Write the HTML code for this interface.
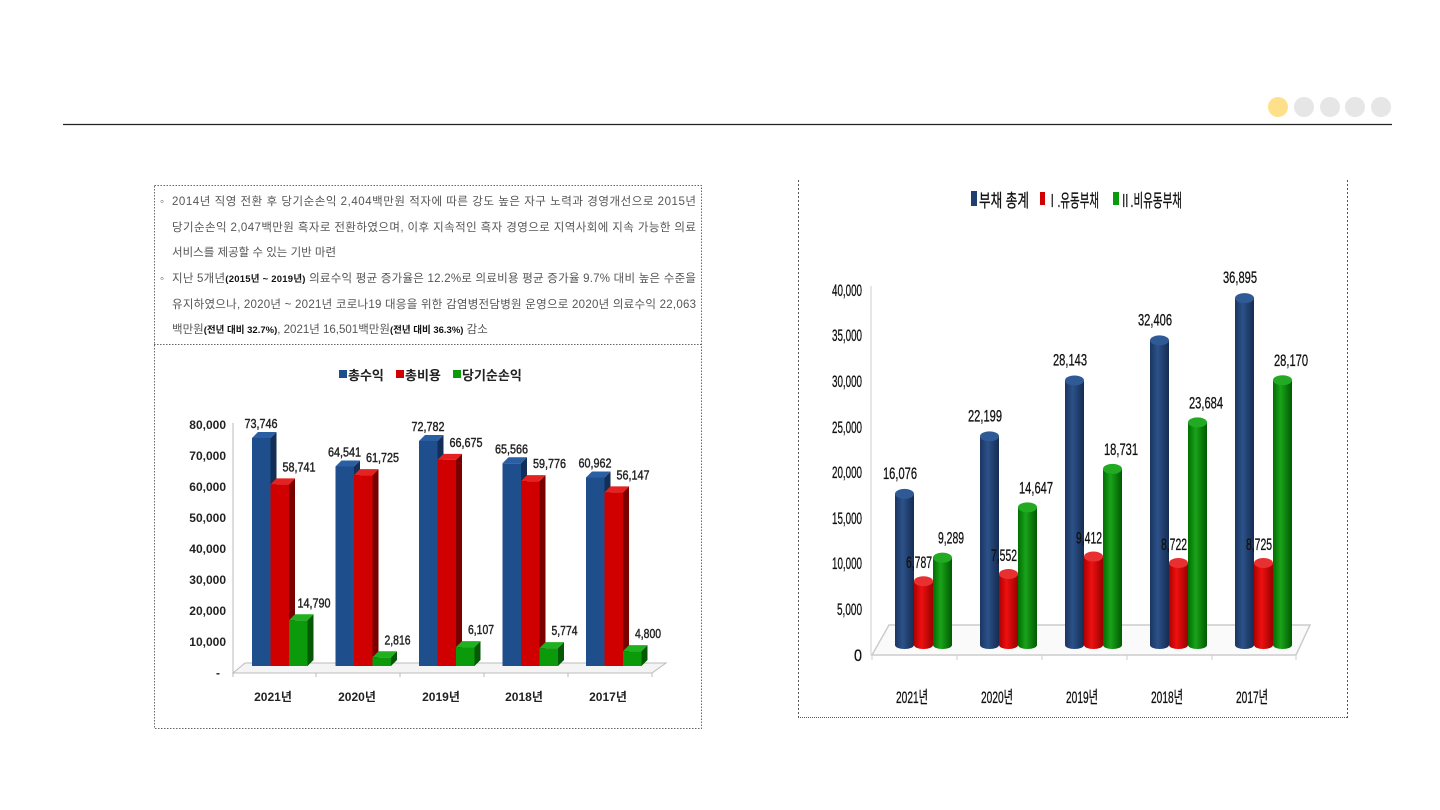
<!DOCTYPE html>
<html><head><meta charset="utf-8"><style>
html,body{margin:0;padding:0;background:#fff;}
svg{display:block;}
text{font-family:"Liberation Sans","Noto Sans CJK KR",sans-serif;}
</style></head><body>
<svg width="1440" height="810" viewBox="0 0 1440 810" xmlns="http://www.w3.org/2000/svg">
<defs>
<linearGradient id="cb" x1="0" x2="1"><stop offset="0" stop-color="#1a3560"/><stop offset=".4" stop-color="#2c5189"/><stop offset="1" stop-color="#152c52"/></linearGradient>
<linearGradient id="cr" x1="0" x2="1"><stop offset="0" stop-color="#b00000"/><stop offset=".4" stop-color="#ee1010"/><stop offset="1" stop-color="#9a0000"/></linearGradient>
<linearGradient id="cg" x1="0" x2="1"><stop offset="0" stop-color="#006e00"/><stop offset=".4" stop-color="#1aa31a"/><stop offset="1" stop-color="#005a00"/></linearGradient>
</defs>
<line x1="63" y1="124.5" x2="1392" y2="124.5" stroke="#222" stroke-width="1.3"/>
<circle cx="1278" cy="107" r="10" fill="#FFE08A"/>
<circle cx="1304" cy="107" r="10" fill="#E6E6E6"/>
<circle cx="1330" cy="107" r="10" fill="#E6E6E6"/>
<circle cx="1355" cy="107" r="10" fill="#E6E6E6"/>
<circle cx="1381" cy="107" r="10" fill="#E6E6E6"/>

<rect x="154.5" y="185.5" width="547" height="543" fill="none" stroke="#666" stroke-dasharray="1.5,1.5"/>
<line x1="154" y1="344.5" x2="701" y2="344.5" stroke="#666" stroke-dasharray="1.5,1.5"/>
<g font-size="11.5" fill="#555">
<text x="160" y="205">◦</text>
<text x="172" y="205" textLength="524" lengthAdjust="spacing">2014년 직영 전환 후 당기순손익 2,404백만원 적자에 따른 강도 높은 자구 노력과 경영개선으로 2015년</text>
<text x="172" y="231" textLength="524" lengthAdjust="spacing">당기순손익 2,047백만원 흑자로 전환하였으며, 이후 지속적인 흑자 경영으로 지역사회에 지속 가능한 의료</text>
<text x="172" y="256">서비스를 제공할 수 있는 기반 마련</text>
<text x="160" y="282">◦</text>
<text x="172" y="282" textLength="524" lengthAdjust="spacing">지난 5개년<tspan font-weight="bold" font-size="9.5" fill="#111">(2015년 ~ 2019년)</tspan> 의료수익 평균 증가율은 12.2%로 의료비용 평균 증가율 9.7% 대비 높은 수준을</text>
<text x="172" y="308" textLength="524" lengthAdjust="spacing">유지하였으나, 2020년 ~ 2021년 코로나19 대응을 위한 감염병전담병원 운영으로 2020년 의료수익 22,063</text>
<text x="172" y="333">백만원<tspan font-weight="bold" font-size="9.5" fill="#111">(전년 대비 32.7%)</tspan>, 2021년 16,501백만원<tspan font-weight="bold" font-size="9.5" fill="#111">(전년 대비 36.3%)</tspan> 감소</text>
</g>

<g font-size="13" font-weight="bold" fill="#222">
<rect x="339" y="370" width="8" height="8" fill="#1f4e8c"/><text x="348" y="380">총수익</text>
<rect x="396" y="370" width="8" height="8" fill="#d00000"/><text x="405" y="380">총비용</text>
<rect x="453" y="370" width="8" height="8" fill="#0a9a0a"/><text x="462" y="380">당기순손익</text>
</g>
<g font-size="12" font-weight="bold" fill="#222" text-anchor="end">
<text x="226" y="429">80,000</text><text x="226" y="460">70,000</text><text x="226" y="491">60,000</text>
<text x="226" y="522">50,000</text><text x="226" y="553">40,000</text><text x="226" y="584">30,000</text>
<text x="226" y="615">20,000</text><text x="226" y="646">10,000</text><text x="220" y="677">-</text>
</g>
<line x1="233" y1="423" x2="233" y2="673" stroke="#bbb"/>
<polygon points="233,673 652,673 666,663 245,663" fill="#f4f4f4" stroke="#bbb"/>
<g stroke="#bbb"><line x1="233" y1="673" x2="233" y2="677"/><line x1="316" y1="673" x2="316" y2="677"/><line x1="400" y1="673" x2="400" y2="677"/><line x1="484" y1="673" x2="484" y2="677"/><line x1="568" y1="673" x2="568" y2="677"/><line x1="652" y1="673" x2="652" y2="677"/></g>
<g font-size="12" font-weight="bold" fill="#222" text-anchor="middle">
<text x="273" y="701">2021년</text><text x="357" y="701">2020년</text><text x="441" y="701">2019년</text><text x="524" y="701">2018년</text><text x="608" y="701">2017년</text>
</g>
<g id="lb"></g>

<g stroke="#555" stroke-dasharray="2,2" fill="none">
<line x1="798.5" y1="180" x2="798.5" y2="718"/>
<line x1="1347.5" y1="180" x2="1347.5" y2="718"/>
<line x1="798" y1="717.5" x2="1348" y2="717.5" stroke-dasharray="1,1"/>
</g>
<g font-size="18" fill="#111" stroke="#111" stroke-width="0.3">
<rect x="971" y="191" width="6" height="15" fill="#1f3f6e" stroke="none"/><text x="979" y="207" textLength="50" lengthAdjust="spacingAndGlyphs">부채 총계</text>
<rect x="1040" y="192" width="5" height="13" fill="#d00000" stroke="none"/><text x="1047" y="207" textLength="52" lengthAdjust="spacingAndGlyphs">Ⅰ.유동부채</text>
<rect x="1113" y="192" width="6" height="13" fill="#0a9a0a" stroke="none"/><text x="1120" y="207" textLength="62" lengthAdjust="spacingAndGlyphs">Ⅱ.비유동부채</text>
</g>
<g font-size="17" fill="#111" stroke="#111" stroke-width="0.3" text-anchor="end">
<text x="862" y="296" textLength="30" lengthAdjust="spacingAndGlyphs">40,000</text>
<text x="862" y="341" textLength="30" lengthAdjust="spacingAndGlyphs">35,000</text>
<text x="862" y="387" textLength="30" lengthAdjust="spacingAndGlyphs">30,000</text>
<text x="862" y="433" textLength="30" lengthAdjust="spacingAndGlyphs">25,000</text>
<text x="862" y="478" textLength="30" lengthAdjust="spacingAndGlyphs">20,000</text>
<text x="862" y="524" textLength="30" lengthAdjust="spacingAndGlyphs">15,000</text>
<text x="862" y="569" textLength="30" lengthAdjust="spacingAndGlyphs">10,000</text>
<text x="862" y="615" textLength="25" lengthAdjust="spacingAndGlyphs">5,000</text>
<text x="862" y="661" textLength="8" lengthAdjust="spacingAndGlyphs">0</text>
</g>
<line x1="871" y1="286" x2="871" y2="655" stroke="#ccc"/>
<polygon points="872,655 1296,655 1310,625 889,625" fill="#fafafa" stroke="#ccc" stroke-width="1.5"/>
<g stroke="#ccc"><line x1="872" y1="655" x2="872" y2="660"/><line x1="957" y1="655" x2="957" y2="660"/><line x1="1042" y1="655" x2="1042" y2="660"/><line x1="1127" y1="655" x2="1127" y2="660"/><line x1="1212" y1="655" x2="1212" y2="660"/><line x1="1296" y1="655" x2="1296" y2="660"/></g>
<g id="rb"></g>
<g font-size="17" fill="#111" stroke="#111" stroke-width="0.3" text-anchor="middle">
<text x="912" y="703" textLength="32" lengthAdjust="spacingAndGlyphs">2021년</text>
<text x="997" y="703" textLength="32" lengthAdjust="spacingAndGlyphs">2020년</text>
<text x="1082" y="703" textLength="32" lengthAdjust="spacingAndGlyphs">2019년</text>
<text x="1167" y="703" textLength="32" lengthAdjust="spacingAndGlyphs">2018년</text>
<text x="1252" y="703" textLength="32" lengthAdjust="spacingAndGlyphs">2017년</text>
</g>
<script>
(function(){
var ns="http://www.w3.org/2000/svg",g=document.getElementById("lb");
function el(t,a,p){var e=document.createElementNS(ns,t);for(var k in a)e.setAttribute(k,a[k]);(p||g).appendChild(e);return e;}
var tot=[73746,64541,72782,65566,60962],cost=[58741,61725,66675,59776,56147],net=[14790,2816,6107,5774,4800];
var cols=[["#1f4e8c","#2b5fa3","#132f57"],["#d00000","#e52222","#7a0000"],["#0a9a0a","#20b020","#045a04"]];
var base=666,sc=0.003092,w=18.5,d=6;
function bar(x,v,c){var t=base-v*sc;
 el("polygon",{points:(x+w)+","+t+" "+(x+w+d)+","+(t-d)+" "+(x+w+d)+","+(base-d)+" "+(x+w)+","+base,fill:c[2]});
 el("polygon",{points:x+","+t+" "+(x+d)+","+(t-d)+" "+(x+w+d)+","+(t-d)+" "+(x+w)+","+t,fill:c[1]});
 el("rect",{x:x,y:t,width:w,height:base-t,fill:c[0]});return t;}
function f(n){return n.toLocaleString("en-US");}
function lab(x,y,s){var e=el("text",{x:x,y:y,"font-size":"12.5",fill:"#222",stroke:"#222","stroke-width":"0.4","text-anchor":"middle",textLength:(s.length>5?33:26),lengthAdjust:"spacingAndGlyphs"});e.textContent=s;}
for(var i=0;i<5;i++){var gx=252+i*83.5;
 var t1=bar(gx,tot[i],cols[0]),t2=bar(gx+w,cost[i],cols[1]),t3=bar(gx+2*w,net[i],cols[2]);
 lab(gx+9,t1-10,f(tot[i]));lab(gx+47,t2-13,f(cost[i]));lab(gx+62,t3-13,f(net[i]));}
var rt=[16076,22199,28143,32406,36895],rc=[6787,7552,9412,8722,8725],rn=[9289,14647,18731,23684,28170];
var g2=document.getElementById("rb");
var rb=645,rs=0.0094,rw=19;
function cyl(x,v,gr,top){var t=rb-v*rs;
 el("rect",{x:x,y:t,width:rw,height:rb-t,fill:"url(#"+gr+")"},g2);
 el("ellipse",{cx:x+rw/2,cy:rb,rx:rw/2,ry:4,fill:"url(#"+gr+")"},g2);
 el("ellipse",{cx:x+rw/2,cy:t,rx:rw/2,ry:5,fill:top},g2);return t;}
function rl(x,y,s){var e=el("text",{x:x,y:y,"font-size":"17",fill:"#111",stroke:"#111","stroke-width":"0.3","text-anchor":"middle",textLength:(s.length>5?34:26),lengthAdjust:"spacingAndGlyphs"},g2);e.textContent=s;}
for(var j=0;j<5;j++){var hx=895+j*85;
 var a=cyl(hx,rt[j],"cb","#2f5a96"),b=cyl(hx+rw,rc[j],"cr","#e83030"),c=cyl(hx+2*rw,rn[j],"cg","#22aa22");
 rl(hx+5,a-15,f(rt[j]));rl(hx+24,b-13,f(rc[j]));rl(hx+56,c-14,f(rn[j]));}
})();
</script>
</svg>
</body></html>
